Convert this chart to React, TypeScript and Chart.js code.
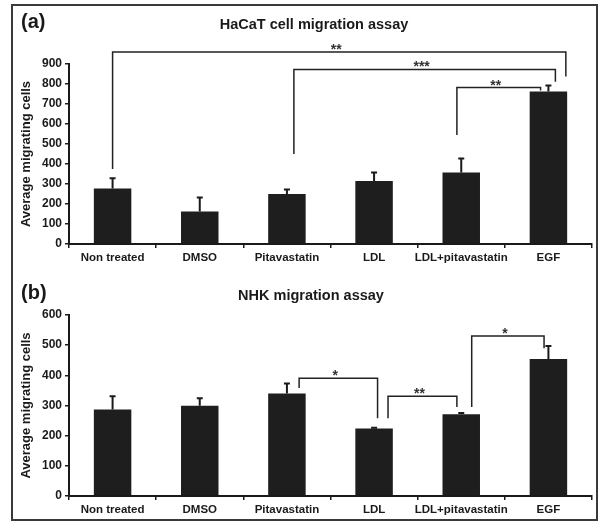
import React, { useEffect, useRef } from "react";
import { Chart, registerables } from "chart.js";

Chart.register(...registerables);

// ---------- data ----------
const categories = ["Non treated", "DMSO", "Pitavastatin", "LDL", "LDL+pitavastatin", "EGF"];

const hacatTitle = "HaCaT cell migration assay";
const hacatLetter = "(a)";
const hacatMeans = [278, 162, 250, 315, 357, 763];
const hacatErrors = [51, 70, 23, 42, 71, 30];
const hacatMax = 900;
const hacatBracketFrom = [0, 2.08, 3.95];
const hacatBracketTo = [5.2, 5.08, 4.91];
const hacatBracketLevel = [960, 873, 782];
const hacatBracketFromLeg = [375, 450, 545];
const hacatBracketToLeg = [837, 811, 767];
const hacatBracketLabels = ["**", "***", "**"];

const nhkTitle = "NHK migration assay";
const nhkLetter = "(b)";
const nhkMeans = [287, 299, 340, 224, 271, 454];
const nhkErrors = [44, 25, 33, 2, 4, 43];
const nhkMax = 600;
const nhkBracketFrom = [2.14, 3.16, 4.12];
const nhkBracketTo = [3.04, 3.95, 4.95];
const nhkBracketLevel = [390, 331, 530];
const nhkBracketFromLeg = [358, 258, 295];
const nhkBracketToLeg = [258, 295, 490];
const nhkBracketLabels = ["*", "**", "*"];

const yAxisTitle = "Average migrating cells";
const tickStep = 100;

// ---------- styles ----------
const FONT = '"Liberation Sans", Arial, Helvetica, sans-serif';
const INK = "#1a1a1a";
const BAR = "#1e1e1e";

type PanelProps = {
  top: number;
  height: number;
  areaTop: number;
  xAxisHeight: number;
  letter: string;
  letterBaseline: number;
  title: string;
  titleX: number;
  titleBaseline: number;
  means: number[];
  errors: number[];
  max: number;
  bFrom: number[];
  bTo: number[];
  bLevel: number[];
  bFromLeg: number[];
  bToLeg: number[];
  bLabels: string[];
};

function Panel(p: PanelProps) {
  const ref = useRef<HTMLCanvasElement | null>(null);
  useEffect(() => {
    if (!ref.current) return;
    const annotations = {
      id: "annotations",
      afterDatasetsDraw(chart: any) {
        const ctx = chart.ctx as CanvasRenderingContext2D;
        const xs = chart.scales.x;
        const ys = chart.scales.y;
        ctx.save();
        // error bars
        ctx.strokeStyle = INK;
        ctx.lineWidth = 2;
        p.means.forEach((m, i) => {
          const x = xs.getPixelForValue(i);
          const y0 = ys.getPixelForValue(m);
          const y1 = ys.getPixelForValue(m + p.errors[i]);
          ctx.beginPath();
          ctx.moveTo(x, y0);
          ctx.lineTo(x, y1);
          ctx.moveTo(x - 3, y1);
          ctx.lineTo(x + 3, y1);
          ctx.stroke();
        });
        // significance brackets
        ctx.lineWidth = 1.5;
        ctx.strokeStyle = "#222";
        ctx.fillStyle = "#333";
        ctx.font = `bold 14px ${FONT}`;
        ctx.textAlign = "center";
        ctx.textBaseline = "alphabetic";
        p.bFrom.forEach((f, i) => {
          const x1 = xs.getPixelForValue(f);
          const x2 = xs.getPixelForValue(p.bTo[i]);
          const yl = ys.getPixelForValue(p.bLevel[i]);
          const ya = ys.getPixelForValue(p.bFromLeg[i]);
          const yb = ys.getPixelForValue(p.bToLeg[i]);
          ctx.beginPath();
          ctx.moveTo(x1, ya);
          ctx.lineTo(x1, yl);
          ctx.lineTo(x2, yl);
          ctx.lineTo(x2, yb);
          ctx.stroke();
          ctx.fillText(p.bLabels[i], (x1 + x2) / 2 - 3, yl + 2);
        });
        ctx.restore();
      },
      afterDraw(chart: any) {
        const ctx = chart.ctx as CanvasRenderingContext2D;
        ctx.save();
        ctx.fillStyle = INK;
        ctx.textBaseline = "alphabetic";
        ctx.textAlign = "left";
        ctx.font = `bold 20px ${FONT}`;
        ctx.fillText(p.letter, 21, p.letterBaseline);
        ctx.textAlign = "center";
        ctx.font = `bold 14.5px ${FONT}`;
        ctx.fillText(p.title, p.titleX, p.titleBaseline);
        ctx.restore();
      },
    };

    const chart = new Chart(ref.current, {
      type: "bar",
      data: {
        labels: categories,
        datasets: [
          {
            data: p.means,
            backgroundColor: BAR,
            borderWidth: 0,
            barPercentage: 0.43,
            categoryPercentage: 1,
          },
        ],
      },
      options: {
        responsive: false,
        animation: false,
        events: [],
        layout: { padding: { top: p.areaTop, right: 7, left: 0, bottom: 0 } },
        plugins: {
          legend: { display: false },
          tooltip: { enabled: false },
          title: { display: false },
        },
        scales: {
          x: {
            type: "category",
            grid: {
              display: true,
              drawOnChartArea: false,
              drawTicks: true,
              tickLength: 4,
              color: INK,
              lineWidth: 1.5,
              offset: true,
            },
            border: { display: true, color: INK, width: 2 },
            ticks: {
              color: INK,
              font: { family: FONT, size: 11.5, weight: "bold" },
              padding: 3,
              maxRotation: 0,
              autoSkip: false,
            },
            afterFit: (s: any) => {
              s.height = p.xAxisHeight;
            },
          },
          y: {
            min: 0,
            max: p.max,
            ticks: {
              stepSize: tickStep,
              color: INK,
              font: { family: FONT, size: 12, weight: "bold" },
              padding: 3,
            },
            grid: {
              display: true,
              drawOnChartArea: false,
              drawTicks: true,
              tickLength: 4,
              color: INK,
              lineWidth: 1.5,
            },
            border: { display: true, color: INK, width: 2 },
            title: {
              display: true,
              text: yAxisTitle,
              color: INK,
              font: { family: FONT, size: 13, weight: "bold" },
              padding: { top: 19, bottom: 0 },
            },
            afterFit: (s: any) => {
              s.width = 69;
            },
          },
        },
      } as any,
      plugins: [annotations],
    });
    return () => chart.destroy();
  }, []);
  return (
    <canvas
      ref={ref}
      width={599}
      height={p.height}
      style={{ position: "absolute", left: 0, top: p.top, display: "block" }}
    />
  );
}

export default function App() {
  return (
    <div
      style={{
        position: "absolute",
        left: 0,
        top: 0,
        width: 599,
        height: 523,
        background: "#ffffff",
        overflow: "hidden",
      }}
    >
      <div
        style={{
          position: "absolute",
          left: 11,
          top: 4,
          width: 587,
          height: 517,
          border: "2px solid #3a3a3a",
          boxSizing: "border-box",
        }}
      />
      <Panel
        top={0}
        height={268}
        areaTop={64}
        xAxisHeight={24}
        letter={hacatLetter}
        letterBaseline={28}
        title={hacatTitle}
        titleX={314}
        titleBaseline={29}
        means={hacatMeans}
        errors={hacatErrors}
        max={hacatMax}
        bFrom={hacatBracketFrom}
        bTo={hacatBracketTo}
        bLevel={hacatBracketLevel}
        bFromLeg={hacatBracketFromLeg}
        bToLeg={hacatBracketToLeg}
        bLabels={hacatBracketLabels}
      />
      <Panel
        top={268}
        height={255}
        areaTop={47}
        xAxisHeight={27}
        letter={nhkLetter}
        letterBaseline={31}
        title={nhkTitle}
        titleX={311}
        titleBaseline={32}
        means={nhkMeans}
        errors={nhkErrors}
        max={nhkMax}
        bFrom={nhkBracketFrom}
        bTo={nhkBracketTo}
        bLevel={nhkBracketLevel}
        bFromLeg={nhkBracketFromLeg}
        bToLeg={nhkBracketToLeg}
        bLabels={nhkBracketLabels}
      />
    </div>
  );
}
